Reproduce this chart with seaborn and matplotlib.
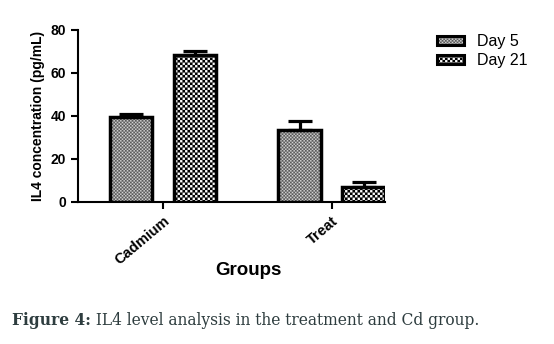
import warnings
import numpy as np
import matplotlib
matplotlib.use("Agg")
import matplotlib.pyplot as plt
import matplotlib.hatch as mhatch
from matplotlib.path import Path
from matplotlib.colors import to_rgba
from matplotlib.patches import Patch
import seaborn as sns
import pandas as pd

warnings.filterwarnings("ignore")

groups = ["Cadmium", "Treat"]
days = ["Day 5", "Day 21"]
day5_values = [39.5, 33.4]
day21_values = [68.3, 7.0]
day5_err = [1.2, 4.5]
day21_err = [2.0, 2.1]


class Checker(mhatch.HatchPatternBase):
    """Filled-square checkerboard hatch; '#' count sets fineness."""
    def __init__(self, hatch, density):
        k = hatch.count("#")
        self.n = 10 * k if k else 0
        self.num_vertices = 2 * self.n * self.n * 5

    def set_vertices_and_codes(self, vertices, codes):
        n = self.n
        s = 1.0 / (2 * n)
        sq = np.array([[0, 0], [s, 0], [s, s], [0, s], [0, 0]])
        idx = 0
        for i in range(n):
            for j in range(n):
                for ox, oy in ((0.0, 0.0), (s, s)):
                    vertices[idx:idx + 5] = sq + [i / n + ox, j / n + oy]
                    codes[idx:idx + 5] = [Path.MOVETO, Path.LINETO, Path.LINETO,
                                          Path.LINETO, Path.CLOSEPOLY]
                    idx += 5


mhatch._hatch_types.append(Checker)

sns.set_style("ticks")
plt.rcParams["font.family"] = ["Liberation Sans", "DejaVu Sans"]
plt.rcParams["hatch.linewidth"] = 0.1
for k in ["text.color", "axes.labelcolor", "xtick.color", "ytick.color", "axes.edgecolor"]:
    plt.rcParams[k] = "black"

df = pd.DataFrame({
    "Group": groups * 2,
    "Day": [days[0]] * 2 + [days[1]] * 2,
    "Value": day5_values + day21_values,
})

fig = plt.figure(figsize=(5.54, 3.44), dpi=100)
ax = fig.add_axes([0.1408, 0.4128, 0.555, 0.50])

sns.barplot(data=df, x="Group", y="Value", hue="Day", order=groups, hue_order=days,
            width=0.76, gap=0.34, ax=ax, errorbar=None, legend=False,
            edgecolor="black", linewidth=2.5)

styles = {
    "Day 5": dict(face="#d4d4d4", hatch="###", hcolor="#5a5a5a"),
    "Day 21": dict(face="white", hatch="##", hcolor="black"),
}
errs = {"Day 5": day5_err, "Day 21": day21_err}
vals = {"Day 5": day5_values, "Day 21": day21_values}
for day, cont in zip(days, ax.containers):
    st = styles[day]
    xs = []
    for bar in cont:
        bar.set_facecolor(st["face"])
        bar.set_hatch(st["hatch"])
        bar.set_edgecolor("black")
        bar._hatch_color = to_rgba(st["hcolor"])
        xs.append(bar.get_x() + bar.get_width() / 2)
    ax.errorbar(xs, vals[day], yerr=[[0] * len(xs), errs[day]], fmt="none",
                ecolor="black", elinewidth=2.3, capsize=8.3, capthick=2.3, zorder=1)

ax.set_ylim(0, 80)
ax.set_xlim(-0.506, 1.32)
ax.set_yticks([0, 20, 40, 60, 80])
for s in ["top", "right"]:
    ax.spines[s].set_visible(False)
for s in ["left", "bottom"]:
    ax.spines[s].set_linewidth(1.5)
ax.tick_params(axis="both", width=1.5, length=5, labelsize=10, colors="black")
for lab in ax.get_yticklabels():
    lab.set_fontweight("bold")
ax.set_xticks(range(len(groups)))
ax.set_xticklabels(groups, rotation=40, ha="right", rotation_mode="anchor",
                   fontweight="bold", fontsize=10.5)
ax.set_ylabel("IL4 concentration (pg/mL)", fontsize=10, fontweight="bold", labelpad=4)
ax.set_xlabel("Groups", fontsize=13.5, fontweight="bold")
ax.xaxis.set_label_coords(0.554, -0.35)

handles = []
for d in days:
    p = Patch(facecolor=styles[d]["face"], hatch=styles[d]["hatch"], edgecolor="black",
              linewidth=2.2, label=d)
    handles.append(p)
leg = fig.legend(handles=handles, loc="upper left", bbox_to_anchor=(0.789, 0.9),
                 frameon=False, fontsize=11.5, handlelength=1.7, handleheight=0.5,
                 labelspacing=0.25, handletextpad=0.8, borderpad=0, borderaxespad=0)
for h, d in zip(leg.legend_handles, days):
    h._hatch_color = to_rgba(styles[d]["hcolor"])

cap_color = "#2e3d3f"
serif = ["DejaVu Serif", "Liberation Serif"]
size = 12.0
renderer = fig.canvas.get_renderer()
t1 = fig.text(0.022, 0.055, "Figure 4:", fontsize=size, fontweight="bold", color=cap_color, family=serif)
t2 = fig.text(0.2, 0.055, " IL4 level analysis in the treatment and Cd group.", fontsize=size,
              color=cap_color, family=serif)
w1 = t1.get_window_extent(renderer).width
w2 = t2.get_window_extent(renderer).width
scale = 470.0 / (w1 + w2)
t1.set_fontsize(size * scale)
t2.set_fontsize(size * scale)
w1 = t1.get_window_extent(renderer).width
t2.set_x(0.022 + w1 / fig.bbox.width)

fig.savefig("out.png", dpi=100)
